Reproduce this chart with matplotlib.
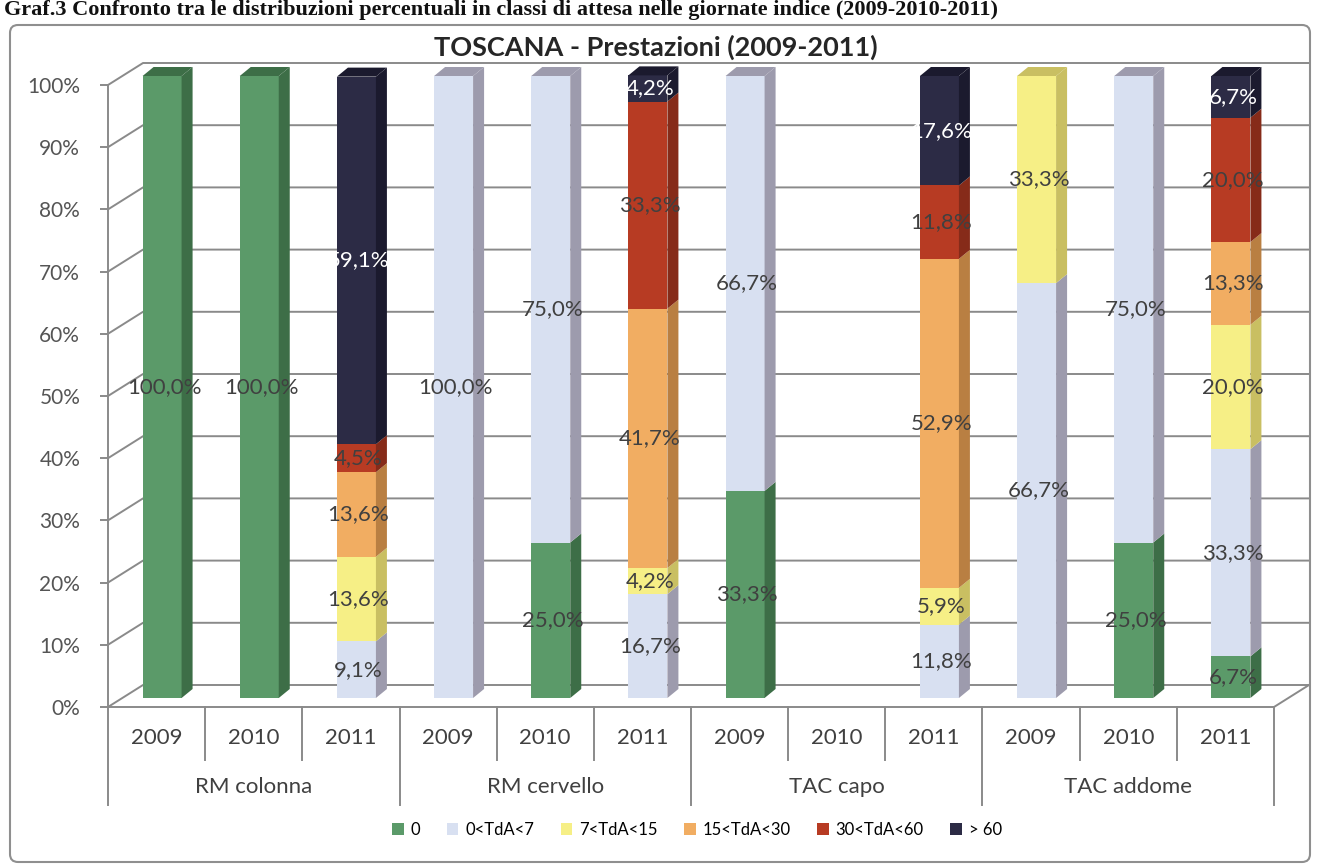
import numpy as np
import matplotlib.pyplot as plt
from matplotlib.patches import Polygon, Patch, FancyBboxPatch
from matplotlib.transforms import IdentityTransform

# Dati: distribuzione percentuale per classi di attesa
gruppi = ["RM colonna", "RM cervello", "TAC capo", "TAC addome"]
anni = ["2009", "2010", "2011"]
classi = ["0", "0<TdA<7", "7<TdA<15", "15<TdA<30", "30<TdA<60", "> 60"]

s_0 = [100.0, 100.0, 0, 0, 25.0, 0, 33.3, 0, 0, 0, 25.0, 6.7]
s_0_7 = [0, 0, 9.1, 100.0, 75.0, 16.7, 66.7, 0, 11.8, 66.7, 75.0, 33.3]
s_7_15 = [0, 0, 13.6, 0, 0, 4.2, 0, 0, 5.9, 33.3, 0, 20.0]
s_15_30 = [0, 0, 13.6, 0, 0, 41.7, 0, 0, 52.9, 0, 0, 13.3]
s_30_60 = [0, 0, 4.5, 0, 0, 33.3, 0, 0, 11.8, 0, 0, 20.0]
s_60 = [0, 0, 59.1, 0, 0, 4.2, 0, 0, 17.6, 0, 0, 6.7]
serie = [s_0, s_0_7, s_7_15, s_15_30, s_30_60, s_60]

# colori: faccia frontale, faccia laterale/superiore
col_front = ["#5b9a69", "#d8e0f1", "#f6ef86", "#f1ad62", "#b73b23", "#2c2b45"]
col_side = ["#3d6e47", "#9d9bad", "#c9bf62", "#b97f42", "#862b19", "#1b1a2e"]
col_testo = ["#404040", "#404040", "#404040", "#404040", "#404040", "white"]

FONT = "Lato"
W, H = 1317, 864
fig = plt.figure(figsize=(W / 100, H / 100), dpi=100)
fig.patch.set_facecolor("white")

# piano frontale degli assi (pixel)
x0, x1, y0, y1 = 108, 1274, 707, 85
ax = fig.add_axes([x0 / W, 1 - y0 / H, (x1 - x0) / W, (y0 - y1) / H])
ax.set_xlim(0, 12)
ax.set_ylim(0, 100)
ax.patch.set_alpha(0)
px_x = (x1 - x0) / 12.0      # pixel per categoria
px_y = (y0 - y1) / 100.0     # pixel per 1%

# profondita' 3D
dxF, dyF = 35 / px_x, 22 / px_y      # parete di fondo
bdx, bdy = 5.5 / px_x, 9 / px_y      # piano frontale delle barre
sdx, sdy = 11 / px_x, 9 / px_y       # spessore barre
larg = 39 / px_x

grid_c = "#8a8a8a"
for v in range(0, 101, 10):
    ax.plot([0, dxF, 12 + dxF], [v, v + dyF, v + dyF], color=grid_c, lw=1.4,
            clip_on=False, zorder=1)
ax.plot([12, 12 + dxF], [0, dyF], color=grid_c, lw=1.4, clip_on=False, zorder=1)

for sp in ["top", "right"]:
    ax.spines[sp].set_visible(False)
ax.spines["left"].set_color(grid_c)
ax.spines["bottom"].set_color(grid_c)
ax.spines["left"].set_linewidth(1.4)
ax.spines["bottom"].set_linewidth(1.4)

ax.set_yticks(range(0, 101, 10))
ax.set_yticklabels([f"{v}%" for v in range(0, 101, 10)], fontsize=15,
                   color="#555555", fontfamily=FONT)
ax.tick_params(axis="y", length=6, width=1.4, color=grid_c, pad=14)
ax.set_xticks([])

# barre 3D impilate
for i in range(12):
    xl = i + 0.5 - larg / 2 + bdx
    xr = xl + larg
    base = 0.0
    pieni = [k for k in range(6) if serie[k][i] > 0]
    top_idx = pieni[-1] if pieni else None
    for k in range(6):
        v = serie[k][i]
        if v <= 0:
            continue
        b, t = base + bdy, base + v + bdy
        ax.add_patch(Polygon([(xl, b), (xr, b), (xr, t), (xl, t)], closed=True,
                             facecolor=col_front[k], edgecolor="none", zorder=3, clip_on=False))
        ax.add_patch(Polygon([(xr, b), (xr + sdx, b + sdy), (xr + sdx, t + sdy), (xr, t)],
                             closed=True, facecolor=col_side[k], edgecolor="none", zorder=3,
                             clip_on=False))
        if k == top_idx:
            ax.add_patch(Polygon([(xl, t), (xr, t), (xr + sdx, t + sdy), (xl + sdx, t + sdy)],
                                 closed=True, facecolor=col_side[k], edgecolor="none",
                                 zorder=3, clip_on=False))
        etichetta = f"{v:.1f}%".replace(".", ",")
        ax.text((xl + xr) / 2 + 0.02, (b + t) / 2, etichetta, ha="center", va="center",
                fontsize=16, color=col_testo[k], fontfamily=FONT, zorder=5, clip_on=False)
        base += v

# etichette categorie su due livelli
yr_y = -31 / px_y
grp_y = -80 / px_y
for i in range(12):
    ax.text(i + 0.5, yr_y, anni[i % 3], ha="center", va="center", fontsize=16,
            color="#404040", fontfamily=FONT, clip_on=False)
for g in range(4):
    ax.text(g * 3 + 1.5, grp_y, gruppi[g], ha="center", va="center", fontsize=16,
            color="#404040", fontfamily=FONT, clip_on=False)
for i in range(13):
    fondo = -98 / px_y if i % 3 == 0 else -53 / px_y
    ax.plot([i, i], [0, fondo], color=grid_c, lw=1.4, clip_on=False)

# titolo del grafico
fig.text(656 / W, 1 - 47 / H, "TOSCANA - Prestazioni (2009-2011)", ha="center",
         va="center", fontsize=19.5, fontweight="bold", color="#262626", fontfamily=FONT)

# legenda
maniglie = [Patch(facecolor=c, edgecolor="none") for c in col_front]
fig.legend(maniglie, classi, loc="center", bbox_to_anchor=(697 / W, 1 - 830 / H), ncol=6,
           frameon=False, handlelength=0.7, handleheight=0.7,
           handletextpad=0.4, columnspacing=1.6, prop={"family": FONT, "size": 12})

# cornice dell'area grafico
fig.add_artist(FancyBboxPatch((10, 2), 1300, 837, boxstyle="round,pad=0,rounding_size=8",
                              transform=IdentityTransform(), facecolor="none",
                              edgecolor="#8f8f8f", lw=1.5))

# intestazione del documento in alto
fig.text(0.003, 1 - 15 / H,
         "Graf.3 Confronto tra le distribuzioni percentuali in classi di attesa nelle giornate indice (2009-2010-2011)",
         ha="left", va="baseline", fontsize=16, fontweight="bold", color="#111111",
         fontfamily="Liberation Serif")

fig.savefig("out.png", dpi=100)
